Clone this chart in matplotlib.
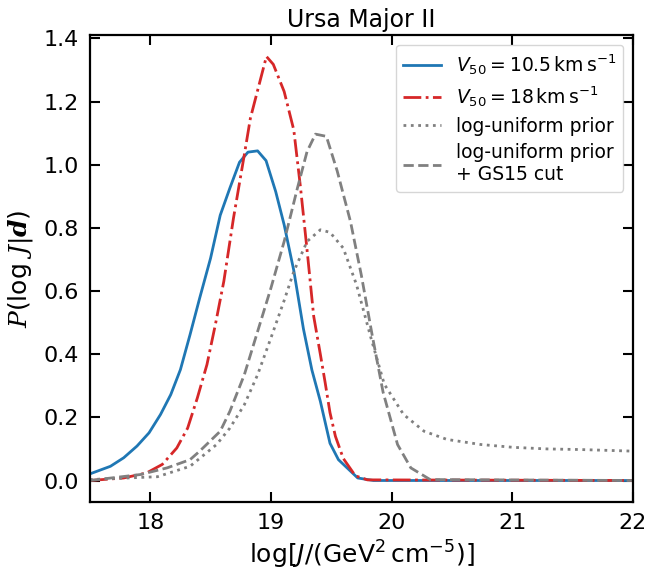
import matplotlib
matplotlib.use("Agg")
import matplotlib.pyplot as plt

# --- data ---
x_v105 = [17.50, 17.67, 17.78, 17.89, 17.99, 18.085, 18.17, 18.25, 18.33, 18.41,
          18.50, 18.58, 18.66, 18.74, 18.81, 18.89, 18.96, 19.04, 19.11, 19.19,
          19.27, 19.34, 19.41, 19.49, 19.56, 19.72, 19.85, 22.0]
y_v105 = [0.021, 0.045, 0.072, 0.109, 0.151, 0.209, 0.272, 0.351, 0.462, 0.578,
          0.704, 0.840, 0.926, 1.008, 1.040, 1.044, 1.013, 0.915, 0.810, 0.665,
          0.480, 0.350, 0.251, 0.118, 0.066, 0.008, 0.0, 0.0]

x_v18 = [17.50, 17.78, 17.97, 18.10, 18.22, 18.31, 18.39, 18.47, 18.54, 18.61,
         18.69, 18.78, 18.83, 18.963, 19.02, 19.11, 19.19, 19.245, 19.30, 19.355,
         19.41, 19.45, 19.49, 19.535, 19.60, 19.70, 19.80, 22.0]
y_v18 = [0.0, 0.008, 0.024, 0.051, 0.103, 0.166, 0.261, 0.367, 0.494, 0.631,
         0.831, 1.032, 1.147, 1.343, 1.318, 1.232, 1.110, 0.930, 0.730, 0.520,
         0.400, 0.310, 0.215, 0.140, 0.070, 0.015, 0.002, 0.0]

x_prior = [17.50, 18.06, 18.33, 18.55, 18.66, 18.78, 18.89, 19.00, 19.11, 19.19,
           19.30, 19.41, 19.49, 19.60, 19.71, 19.83, 19.94, 20.10, 20.27, 20.46,
           20.74, 21.01, 21.29, 21.57, 22.0]
y_prior = [0.003, 0.012, 0.045, 0.114, 0.166, 0.240, 0.335, 0.451, 0.570, 0.662,
           0.757, 0.794, 0.786, 0.736, 0.620, 0.451, 0.305, 0.209, 0.156, 0.130,
           0.114, 0.105, 0.100, 0.098, 0.093]

x_cut = [17.50, 17.92, 18.14, 18.33, 18.41, 18.58, 18.66, 18.78, 18.89, 19.00,
         19.11, 19.22, 19.30, 19.37, 19.46, 19.55, 19.66, 19.75, 19.84, 19.93,
         20.05, 20.16, 20.32, 22.0]
y_cut = [0.0, 0.019, 0.040, 0.066, 0.093, 0.156, 0.219, 0.335, 0.472, 0.609,
         0.757, 0.926, 1.042, 1.097, 1.090, 0.980, 0.820, 0.650, 0.460, 0.280,
         0.114, 0.040, 0.003, 0.0]

labels = [r'$V_{50} = 10.5\,\mathrm{km\,s^{-1}}$',
          r'$V_{50} = 18\,\mathrm{km\,s^{-1}}$',
          'log-uniform prior',
          'log-uniform prior\n+ GS15 cut']

fig = plt.figure(figsize=(6.47, 5.78), dpi=100)
ax = fig.add_axes([0.139, 0.132, 0.839, 0.807])

ax.plot(x_v105, y_v105, color='#1f77b4', lw=2, ls='-', label=labels[0])
ax.plot(x_v18, y_v18, color='#d62728', lw=2, ls='-.', label=labels[1])
ax.plot(x_prior, y_prior, color='gray', lw=2, ls=':', label=labels[2])
ax.plot(x_cut, y_cut, color='gray', lw=2, ls='--', label=labels[3])

ax.set_xlim(17.5, 22)
ax.set_xticks([18, 19, 20, 21, 22])
ax.set_yticks([0.0, 0.2, 0.4, 0.6, 0.8, 1.0, 1.2, 1.4])

ax.tick_params(direction='in', top=True, right=True, length=7, width=1.5,
               labelsize=16, pad=8)
for s in ax.spines.values():
    s.set_linewidth(1.6)

ax.set_title('Ursa Major II', fontsize=17, pad=6)
ax.set_xlabel(r'$\log[J/(\mathrm{GeV}^2\,\mathrm{cm}^{-5})]$', fontsize=18)
ax.set_ylabel(r'$P$(log $J|\boldsymbol{d}$)', fontsize=18,
              math_fontfamily='dejavuserif', labelpad=6)

ax.legend(loc='upper right', fontsize=13.5, handlelength=2.0, borderpad=0.4,
          labelspacing=0.4)

fig.savefig('out.png', dpi=100)
